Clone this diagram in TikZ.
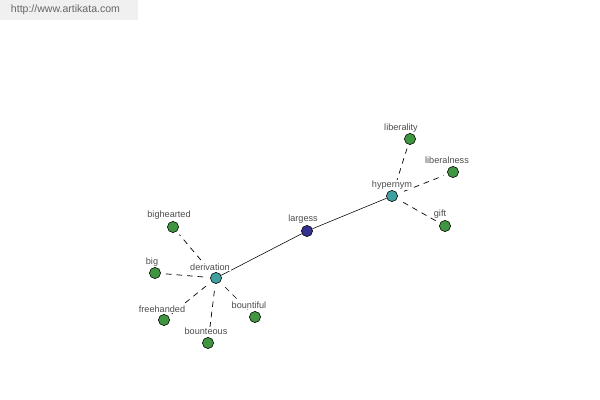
\documentclass[tikz,border=0pt]{standalone}
\usepackage{fontspec}
\setmainfont{Liberation Sans}
\usetikzlibrary{positioning}

\begin{document}
\begin{tikzpicture}[x=0.025cm, y=-0.025cm,
  word/.style={draw, circle, inner sep=0pt, minimum size=0.28cm, fill=green!45!black!75, line width=0.4pt},
  head/.style={word, fill=teal!75},
  root/.style={word, fill=blue!45!black!80},
  tag/.style={fill=white, inner sep=0.5pt, text=black!70, font=\fontsize{6.5}{7}\selectfont},
  rel/.style={dash pattern=on 4pt off 3.5pt, line width=0.5pt, shorten <=5pt, shorten >=3pt}]
  \useasboundingbox (0,0) rectangle (600,400);
  \fill[black!6] (0,0) rectangle (138,20);
  \node[text=black!60, font=\fontsize{7.5}{8}\selectfont, anchor=west] (site) at (6,10) {http://www.artikata.com};

  % centre and the two relations
  \node[root] (largess) at (307,231) {};
  \node[head] (hypernym) at (392,196) {};
  \node[head] (derivation) at (216,278) {};

  \node[word] (liberality) at (410,139) {};
  \node[word] (liberalness) at (453,172) {};
  \node[word] (gift) at (445,226) {};

  \node[word] (bighearted) at (173,227) {};
  \node[word] (big) at (155,273) {};
  \node[word] (freehanded) at (164,320) {};
  \node[word] (bounteous) at (208,343) {};
  \node[word] (bountiful) at (255,317) {};

  \draw (largess) -- (hypernym);
  \draw (largess) -- (derivation);
  \foreach \w in {liberality, liberalness, gift}
    \draw[rel] (hypernym) -- (\w);
  \foreach \w in {bighearted, big, freehanded, bounteous, bountiful}
    \draw[rel] (derivation) -- (\w);

  % labels on top
  \node[tag] (largess-t) at (303,219) {largess};
  \node[tag] (hypernym-t) at (392,185) {hypernym};
  \node[tag] (derivation-t) at (210,267) {derivation};
  \node[tag] (liberality-t) at (401,128) {liberality};
  \node[tag] (liberalness-t) at (447,160) {liberalness};
  \node[tag] (gift-t) at (440,214) {gift};
  \node[tag] (bighearted-t) at (169,215) {bighearted};
  \node[tag] (big-t) at (152,262) {big};
  \node[tag] (freehanded-t) at (162,309) {freehanded};
  \node[tag] (bounteous-t) at (206,331) {bounteous};
  \node[tag] (bountiful-t) at (249,305) {bountiful};
\end{tikzpicture}
\end{document}
